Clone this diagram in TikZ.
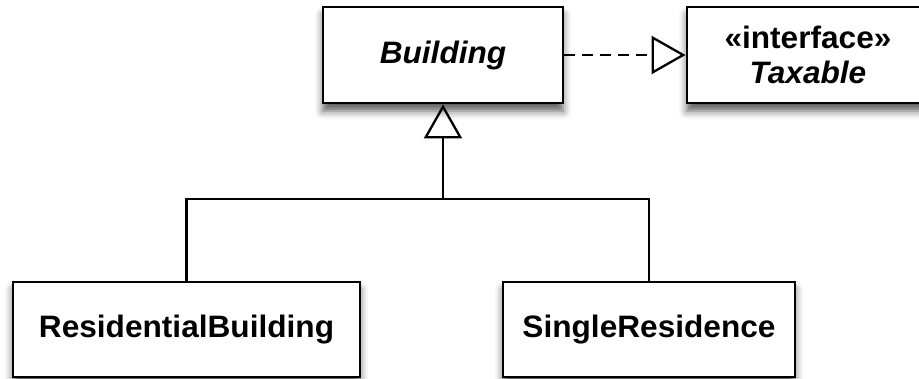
\documentclass[tikz,border=0pt]{standalone}
\usepackage{fontspec}
\setmainfont{Liberation Sans}[FakeStretch=1.02]
\usetikzlibrary{arrows.meta,shadows.blur}
\begin{document}
\begin{tikzpicture}[x=1pt,y=-1pt,
  classbox/.style={draw=black, fill=white, line width=2.8pt, inner sep=0pt,
    font=\fontsize{31pt}{31pt}\selectfont\bfseries, align=center,
    blur shadow={shadow xshift=0pt, shadow yshift=-8pt, shadow blur radius=8pt, shadow opacity=65}},
  conn/.style={line width=2.3pt, draw=black},
  gentip/.style={-{Triangle[open, length=34pt, width=38pt, line width=2.3pt]}},
  dashpat/.style={dash pattern=on 11pt off 7pt}]
\useasboundingbox (0,0) rectangle (919,378);
\node[classbox, minimum width=240pt, minimum height=96pt] (bld) at (443,55) {\itshape Building};
\node[classbox, minimum width=242pt, minimum height=96pt] (tax) at (808,55)
  {«interface»\\[4pt]\itshape Taxable};
\node[classbox, minimum width=347pt, minimum height=95pt] (rb) at (186.5,329.5) {ResidentialBuilding};
\node[classbox, minimum width=292pt, minimum height=95pt] (sr) at (649,329.5) {SingleResidence};
\coordinate (jn) at (443,199);
\draw[conn] (rb.north) |- (jn) -| (sr.north);
\draw[conn, gentip] (jn) -- (bld.south);
\draw[conn, dashpat, gentip] (bld.east) -- (tax.west);
\end{tikzpicture}
\end{document}
